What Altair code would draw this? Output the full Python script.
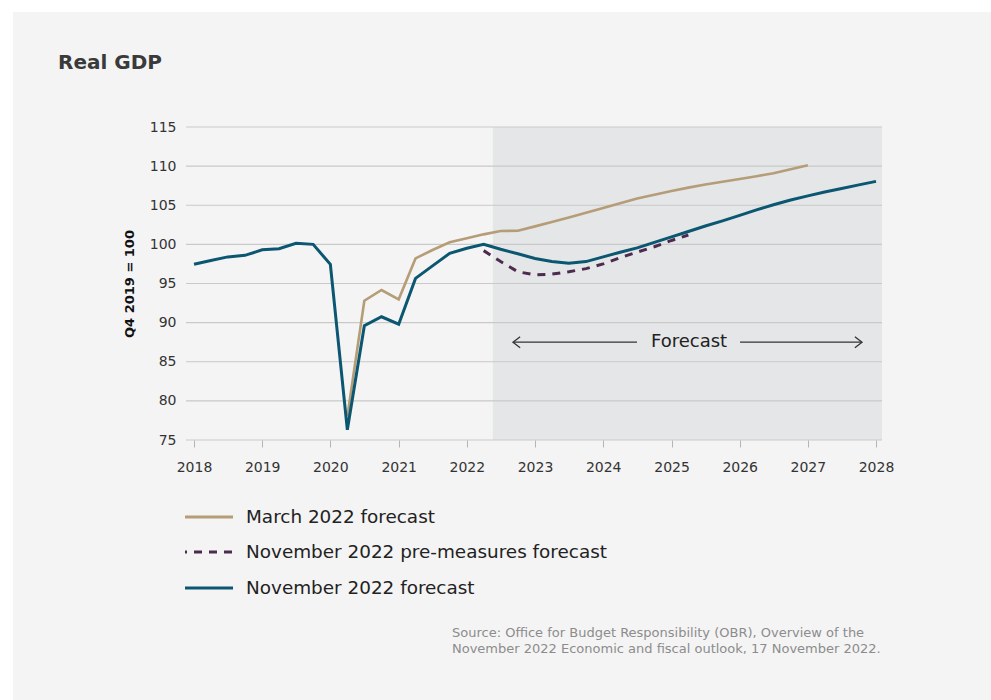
import altair as alt
import pandas as pd

# ---------------- data ----------------
quarter_labels = [f"{y} Q{q}" for y in range(2018, 2029) for q in (1, 2, 3, 4)][:41]

nov22_values = [
    97.45, 97.95, 98.40, 98.60,      # 2018
    99.30, 99.45, 100.13, 100.00,    # 2019
    97.45, 76.30, 89.60, 90.75,      # 2020
    89.80, 95.65, 97.25, 98.85,      # 2021
    99.50, 100.00, 99.37, 98.80,     # 2022
    98.20, 97.80, 97.60, 97.80,      # 2023
    98.40, 99.00, 99.55, 100.25,     # 2024
    100.95, 101.65, 102.35, 103.00,  # 2025
    103.70, 104.40, 105.07, 105.67,  # 2026
    106.20, 106.70, 107.15, 107.60,  # 2027
    108.05,                          # 2028 Q1
]
mar22_start = "2020 Q2"
mar22_values = [
    78.00, 92.80, 94.17,             # 2020 Q2-Q4
    92.98, 98.20, 99.28, 100.26,     # 2021
    100.77, 101.28, 101.70, 101.75,  # 2022
    102.30, 102.85, 103.45, 104.05,  # 2023
    104.65, 105.25, 105.85, 106.35,  # 2024
    106.82, 107.25, 107.65, 108.00,  # 2025
    108.35, 108.70, 109.10, 109.60,  # 2026
    110.10,                          # 2027 Q1
]
pre_start = "2022 Q2"
pre_values = [
    99.20, 97.80, 96.50,             # 2022 Q2-Q4
    96.10, 96.20, 96.50, 96.90,      # 2023
    97.50, 98.30, 99.00, 99.70,      # 2024
    100.50, 101.20,                  # 2025 Q1-Q2
]

series_names = [
    "March 2022 forecast",
    "November 2022 pre-measures forecast",
    "November 2022 forecast",
]
series_colors = ["#b59d77", "#4d2a4f", "#0b5670"]

y_ticks = [75, 80, 85, 90, 95, 100, 105, 110, 115]
x_years = list(range(2018, 2029))

forecast_start = "2022-05-20"
forecast_label = "Forecast"
forecast_label_date = "2025-04-05"
forecast_level = 87.5
arrow_left = ("2022-09-05", "2024-06-30")
arrow_right = ("2026-01-03", "2027-10-18")

title_text = "Real GDP"
y_title = "Q4 2019 = 100"
source_lines = [
    "Source: Office for Budget Responsibility (OBR), Overview of the",
    "November 2022 Economic and fiscal outlook, 17 November 2022.",
]


def q_to_date(label):
    y, q = label.split(" Q")
    return f"{y}-{(int(q) - 1) * 3 + 1:02d}-01"


def series_frame(start_label, values):
    i0 = quarter_labels.index(start_label)
    labels = quarter_labels[i0:i0 + len(values)]
    return pd.DataFrame({"date": [q_to_date(l) for l in labels], "value": values})


nov_df = series_frame(quarter_labels[0], nov22_values)
mar_df = series_frame(mar22_start, mar22_values)
pre_df = series_frame(pre_start, pre_values)

# ---------------- layout ----------------
W, H = 696, 313
PAD = {"left": 186, "top": 127, "right": 109, "bottom": 260}
FONT = "DejaVu Sans"
TXT = "#333333"

xs = alt.Scale(
    type="utc",
    domain=[alt.DateTime(year=2017, month=11, date=19, utc=True),
            alt.DateTime(year=2028, month=2, date=2, utc=True)],
    nice=False,
)
ys = alt.Scale(domain=[75, 115], nice=False, zero=False)

x_axis = alt.Axis(
    values=[alt.DateTime(year=y, month=1, date=1, utc=True) for y in x_years],
    format="%Y", grid=False, domain=False, ticks=True, tickSize=7,
    tickColor="#b5b5b5", tickWidth=1, labelFontSize=14, labelColor=TXT,
    labelPadding=13, title=None, labelFont=FONT, zindex=1,
)
y_axis = alt.Axis(
    values=y_ticks, grid=False, domain=False, ticks=False, labelPadding=10,
    labelFontSize=14, labelColor=TXT, labelFont=FONT, title=y_title,
    titleFontSize=13, titleFontWeight="bold", titleColor="#111111",
    titlePadding=13, titleFont=FONT, zindex=1,
)


def X(field="date"):
    return alt.X(f"{field}:T", scale=xs, axis=x_axis)


def Y(field="value"):
    return alt.Y(f"{field}:Q", scale=ys, axis=y_axis)


one = alt.Data(values=[{}])

background = alt.Chart(one).mark_rect(color="#f4f4f4").encode(
    x=alt.value(13 - PAD["left"]), x2=alt.value(991 - PAD["left"]),
    y=alt.value(12 - PAD["top"]), y2=alt.value(700 - PAD["top"]),
)

shade_df = pd.DataFrame({"date": [forecast_start], "end": ["2028-02-02"]})
shade = alt.Chart(shade_df).mark_rect(color="#e5e6e8").encode(
    x=X(), x2="end:T", y=alt.value(0), y2=alt.value(H),
)

grid = alt.Chart(pd.DataFrame({"value": y_ticks})).mark_rule(
    color="#c9c9c9", strokeWidth=1.2
).encode(y=Y())

mar_line = alt.Chart(mar_df).mark_line(
    color=series_colors[0], strokeWidth=2.6
).encode(x=X(), y=Y())
pre_line = alt.Chart(pre_df).mark_line(
    color=series_colors[1], strokeWidth=3, strokeDash=[8, 7]
).encode(x=X(), y=Y())
nov_line = alt.Chart(nov_df).mark_line(
    color=series_colors[2], strokeWidth=3
).encode(x=X(), y=Y())

arrow_df = pd.DataFrame({
    "date": [arrow_left[0], arrow_right[0]],
    "end": [arrow_left[1], arrow_right[1]],
    "value": [forecast_level, forecast_level],
})
arrow_lines = alt.Chart(arrow_df).mark_rule(color="#333333", strokeWidth=1.3).encode(
    x=X(), x2="end:T", y=Y(),
)
head_left = alt.Chart(pd.DataFrame({"date": [arrow_left[0]], "value": [forecast_level]})).mark_point(
    shape="M1.3,-1L0,0L1.3,1", size=121, filled=False, color="#333333",
    strokeWidth=1.3, opacity=1,
).encode(x=X(), y=Y())
head_right = alt.Chart(pd.DataFrame({"date": [arrow_right[1]], "value": [forecast_level]})).mark_point(
    shape="M-1.3,-1L0,0L-1.3,1", size=121, filled=False, color="#333333",
    strokeWidth=1.3, opacity=1,
).encode(x=X(), y=Y())
forecast_text = alt.Chart(pd.DataFrame({
    "date": [forecast_label_date], "value": [forecast_level], "t": [forecast_label]
})).mark_text(fontSize=18, color="#222222", font=FONT, baseline="middle").encode(
    x=X(), y=Y(), text="t:N",
)

title = alt.Chart(one).mark_text(
    fontSize=20, fontWeight="bold", color="#3a3a3a", font=FONT,
    align="left", baseline="alphabetic",
).encode(x=alt.value(58 - PAD["left"]), y=alt.value(69 - PAD["top"]), text=alt.value(title_text))

source = alt.Chart(one).mark_text(
    fontSize=13, color="#8c8c8c", font=FONT, align="left", baseline="alphabetic",
    lineHeight=16,
).encode(x=alt.value(452 - PAD["left"]), y=alt.value(637 - PAD["top"]), text=alt.value(source_lines))

legend_rows = [517, 552, 588]
legend_layers = []
for i, name in enumerate(series_names):
    ry = legend_rows[i] - PAD["top"]
    kw = {"strokeDash": [8, 7], "strokeDashOffset": 6} if i == 1 else {}
    legend_layers.append(
        alt.Chart(one).mark_rule(color=series_colors[i], strokeWidth=3, **kw).encode(
            x=alt.value(185 - PAD["left"]), x2=alt.value(233 - PAD["left"]), y=alt.value(ry)
        )
    )
    legend_layers.append(
        alt.Chart(one).mark_text(
            fontSize=18.4, color="#222222", font=FONT, align="left", baseline="middle"
        ).encode(x=alt.value(246 - PAD["left"]), y=alt.value(ry), text=alt.value(name))
    )

chart = alt.layer(
    background, shade, grid, mar_line, pre_line, nov_line,
    arrow_lines, head_left, head_right, forecast_text,
    title, source, *legend_layers,
).properties(
    width=W, height=H, padding=PAD,
    autosize=alt.AutoSizeParams(type="none"), background="white",
).configure_view(stroke=None).configure(font=FONT)

chart.save("out.html", embed_options={"renderer": "svg", "actions": False})
